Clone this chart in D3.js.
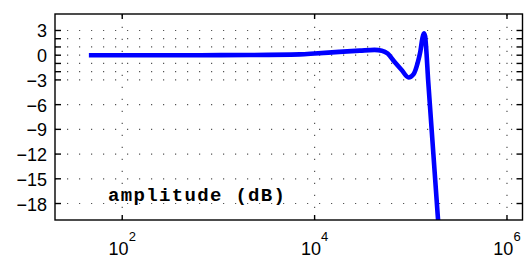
<!DOCTYPE html>
<html>
<head>
<meta charset="utf-8">
<script src="https://cdn.jsdelivr.net/npm/d3@7"></script>
<style>
  body { margin: 0; background: #fff; }
  svg { display: block; }
</style>
</head>
<body>
<script>
// frequency response
const freq = [45, 100, 650, 2100, 7000, 10000, 18000, 29500, 42000, 50000, 57500, 67600,
              80400, 94800, 107000, 117500, 125900, 131800, 136800, 140900, 144200,
              151400, 191900, 214000];
const ampDb = [0, 0, 0, 0.02, 0.1, 0.2, 0.4, 0.55, 0.65, 0.55, 0.2, -0.8,
               -1.8, -2.7, -2.3, -1.0, 0.5, 2.0, 2.65, 2.3, 1.0,
               -3.0, -19.9, -27];
const yMajor = [3, 0, -3, -6, -9, -12, -15, -18];
const yMinor = [2, 1, -1, -2];
const xTicks = [1e2, 1e4, 1e6];
const xTickExp = ["2", "4", "6"];
const label = "amplitude (dB)";

const W = 525, H = 259;
const mLeft = 55, mRight = 522.5, mTop = 14, mBottom = 220;

const svg = d3.select("body").append("svg")
    .attr("width", W)
    .attr("height", H);

const x = d3.scaleLog().domain([20, 1.45e6]).range([mLeft, mRight]);
const y = d3.scaleLinear().domain([-20, 5]).range([mBottom, mTop]);

// dotted grid
const grid = svg.append("g")
    .attr("stroke", "#555")
    .attr("stroke-width", 1.2)
    .attr("stroke-dasharray", "1.2,10.8");
grid.selectAll(".gy")
    .data(yMajor.concat(yMinor))
    .enter().append("line")
    .attr("x1", mLeft).attr("x2", mRight)
    .attr("y1", d => y(d)).attr("y2", d => y(d));
grid.selectAll(".gx")
    .data(xTicks)
    .enter().append("line")
    .attr("x1", d => x(d)).attr("x2", d => x(d))
    .attr("y1", mBottom).attr("y2", mTop);

// the curve
svg.append("clipPath").attr("id", "plot")
    .append("rect")
    .attr("x", mLeft).attr("y", mTop)
    .attr("width", mRight - mLeft).attr("height", mBottom - mTop);

const pts = freq.map((f, i) => [f, ampDb[i]]);
const line = d3.line()
    .x(d => x(d[0]))
    .y(d => y(d[1]))
    .curve(d3.curveMonotoneX);

svg.append("path")
    .datum(pts)
    .attr("clip-path", "url(#plot)")
    .attr("fill", "none")
    .attr("stroke", "#0000ff")
    .attr("stroke-width", 4.6)
    .attr("stroke-linejoin", "round")
    .attr("d", line);

// frame + inward ticks
const axes = svg.append("g").attr("stroke", "#000").attr("stroke-width", 1.4);
axes.append("rect")
    .attr("x", mLeft).attr("y", mTop)
    .attr("width", mRight - mLeft).attr("height", mBottom - mTop)
    .attr("fill", "none");
const yt = yMajor.concat(yMinor);
axes.selectAll(".tl").data(yt).enter().append("line")
    .attr("x1", mLeft).attr("x2", mLeft + 6)
    .attr("y1", d => y(d)).attr("y2", d => y(d));
axes.selectAll(".tr").data(yt).enter().append("line")
    .attr("x1", mRight).attr("x2", mRight - 6)
    .attr("y1", d => y(d)).attr("y2", d => y(d));
axes.selectAll(".tb").data(xTicks).enter().append("line")
    .attr("x1", d => x(d)).attr("x2", d => x(d))
    .attr("y1", mBottom).attr("y2", mBottom - 5);
axes.selectAll(".tt").data(xTicks).enter().append("line")
    .attr("x1", d => x(d)).attr("x2", d => x(d))
    .attr("y1", mTop).attr("y2", mTop + 5);

// tick labels
svg.selectAll(".ylab")
    .data(yMajor)
    .enter().append("text")
    .attr("x", 47)
    .attr("y", d => y(d) + 7)
    .attr("text-anchor", "end")
    .style("font-family", "'Liberation Sans', Arial, sans-serif")
    .style("font-size", "18px")
    .text(d => d < 0 ? "\u2212" + Math.abs(d) : d);

const xl = svg.selectAll(".xlab")
    .data(xTicks)
    .enter().append("text")
    .attr("x", d => x(d))
    .attr("y", 255)
    .attr("text-anchor", "middle")
    .style("font-family", "'Liberation Sans', Arial, sans-serif")
    .style("font-size", "18px");
xl.append("tspan").text("10");
xl.append("tspan")
    .attr("dy", -14)
    .style("font-size", "13px")
    .text((d, i) => xTickExp[i]);

svg.append("text")
    .attr("x", 108)
    .attr("y", 201)
    .attr("textLength", 177)
    .attr("lengthAdjust", "spacing")
    .style("font-family", "'Liberation Mono', 'Courier New', monospace")
    .style("font-weight", 700)
    .style("font-size", "19px")
    .text(label);
</script>
</body>
</html>
